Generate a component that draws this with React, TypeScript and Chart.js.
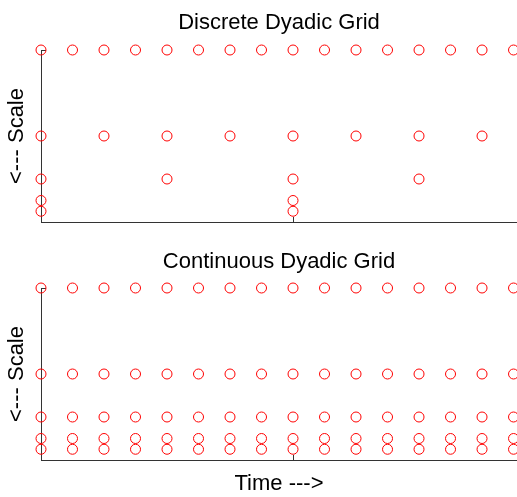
import React, { useEffect, useRef } from "react";
import { Chart, registerables } from "chart.js";

Chart.register(...registerables);

// ---- data ----
const timeSteps = [0, 1, 2, 3, 4, 5, 6, 7, 8, 9, 10, 11, 12, 13, 14, 15];
const scaleLevels = [16, 8, 4, 2, 1];
const discreteTimesL16 = [0, 1, 2, 3, 4, 5, 6, 7, 8, 9, 10, 11, 12, 13, 14, 15];
const discreteTimesL8 = [0, 2, 4, 6, 8, 10, 12, 14];
const discreteTimesL4 = [0, 4, 8, 12];
const discreteTimesL2 = [0, 8];
const discreteTimesL1 = [0, 8];
const discreteTimesByLevel = [discreteTimesL16, discreteTimesL8, discreteTimesL4, discreteTimesL2, discreteTimesL1];
const continuousTimesByLevel = [timeSteps, timeSteps, timeSteps, timeSteps, timeSteps];
const xTickValues = [8];
const yTickValues = [16];
const timeMin = 0;
const timeMax = 15.11;
const scaleMin = 0;
const scaleMax = 16;

const FONT = "'Liberation Sans', Arial, Helvetica, sans-serif";
const AXIS_COLOR = "#333333";
const MARK_COLOR = "rgb(255,0,0)";

const insideTicks = {
  id: "insideTicks",
  beforeDatasetsDraw(chart: any) {
    const { ctx, chartArea, scales } = chart;
    ctx.save();
    ctx.strokeStyle = AXIS_COLOR;
    ctx.lineWidth = 1;
    ctx.beginPath();
    xTickValues.forEach((v) => {
      const px = Math.round(scales.x.getPixelForValue(v)) + 0.5;
      ctx.moveTo(px, chartArea.bottom);
      ctx.lineTo(px, chartArea.bottom - 5);
    });
    yTickValues.forEach((v) => {
      const py = Math.round(scales.y.getPixelForValue(v)) + 0.5;
      ctx.moveTo(chartArea.left, py);
      ctx.lineTo(chartArea.left + 5, py);
    });
    ctx.stroke();
    ctx.restore();
  },
};

type GridProps = {
  title: string;
  timesByLevel: number[][];
  height: number;
  titlePad: { top: number; bottom: number };
  bottomPad: number;
  xTitle?: string;
  xTitlePad?: { top: number; bottom: number };
};

function GridChart(props: GridProps) {
  const ref = useRef<HTMLCanvasElement | null>(null);
  useEffect(() => {
    if (!ref.current) return;
    const datasets = scaleLevels.map((lvl, i) => ({
      label: "scale " + lvl,
      data: props.timesByLevel[i].map((t) => ({ x: t, y: lvl })),
      showLine: false,
      pointStyle: "circle" as const,
      pointRadius: 5,
      pointBorderWidth: 1,
      pointBorderColor: MARK_COLOR,
      pointBackgroundColor: "rgba(0,0,0,0)",
      clip: false as const,
    }));
    const chart = new Chart(ref.current, {
      type: "scatter",
      data: { datasets },
      plugins: [insideTicks],
      options: {
        animation: false,
        responsive: false,
        devicePixelRatio: 1,
        events: [],
        layout: { autoPadding: false, padding: { left: 0, right: 0, top: 0, bottom: props.bottomPad } },
        plugins: {
          legend: { display: false },
          tooltip: { enabled: false },
          title: {
            display: true,
            text: props.title,
            fullSize: false,
            color: "#000",
            font: { family: FONT, size: 22, weight: "normal", lineHeight: 1 },
            padding: props.titlePad,
          },
        },
        scales: {
          x: {
            type: "linear",
            min: timeMin,
            max: timeMax,
            ticks: { display: false },
            grid: { display: false, drawTicks: false },
            border: { display: true, color: AXIS_COLOR, width: 1 },
            title: {
              display: !!props.xTitle,
              text: props.xTitle || "",
              color: "#000",
              font: { family: FONT, size: 22, weight: "normal", lineHeight: 1 },
              padding: props.xTitlePad || { top: 0, bottom: 0 },
            },
          },
          y: {
            type: "linear",
            min: scaleMin,
            max: scaleMax,
            ticks: { display: false },
            grid: { display: false, drawTicks: false },
            border: { display: true, color: AXIS_COLOR, width: 1 },
            title: {
              display: true,
              text: "<--- Scale",
              color: "#000",
              font: { family: FONT, size: 22, weight: "normal", lineHeight: 1 },
              padding: { top: 6, bottom: 13 },
            },
          },
        },
      },
    } as any);
    return () => chart.destroy();
  }, []);
  return <canvas ref={ref} width={517} height={props.height} style={{ display: "block", width: 517, height: props.height }} />;
}

export default function App() {
  return (
    <div style={{ position: "fixed", left: 0, top: 0, width: 517, height: 497, overflow: "hidden", background: "#fff" }}>
      <GridChart
        title="Discrete Dyadic Grid"
        timesByLevel={discreteTimesByLevel}
        height={240}
        titlePad={{ top: 12, bottom: 16 }}
        bottomPad={18}
      />
      <GridChart
        title="Continuous Dyadic Grid"
        timesByLevel={continuousTimesByLevel}
        height={257}
        titlePad={{ top: 11, bottom: 15 }}
        bottomPad={0}
        xTitle="Time --->"
        xTitlePad={{ top: 13, bottom: 2 }}
      />
    </div>
  );
}
